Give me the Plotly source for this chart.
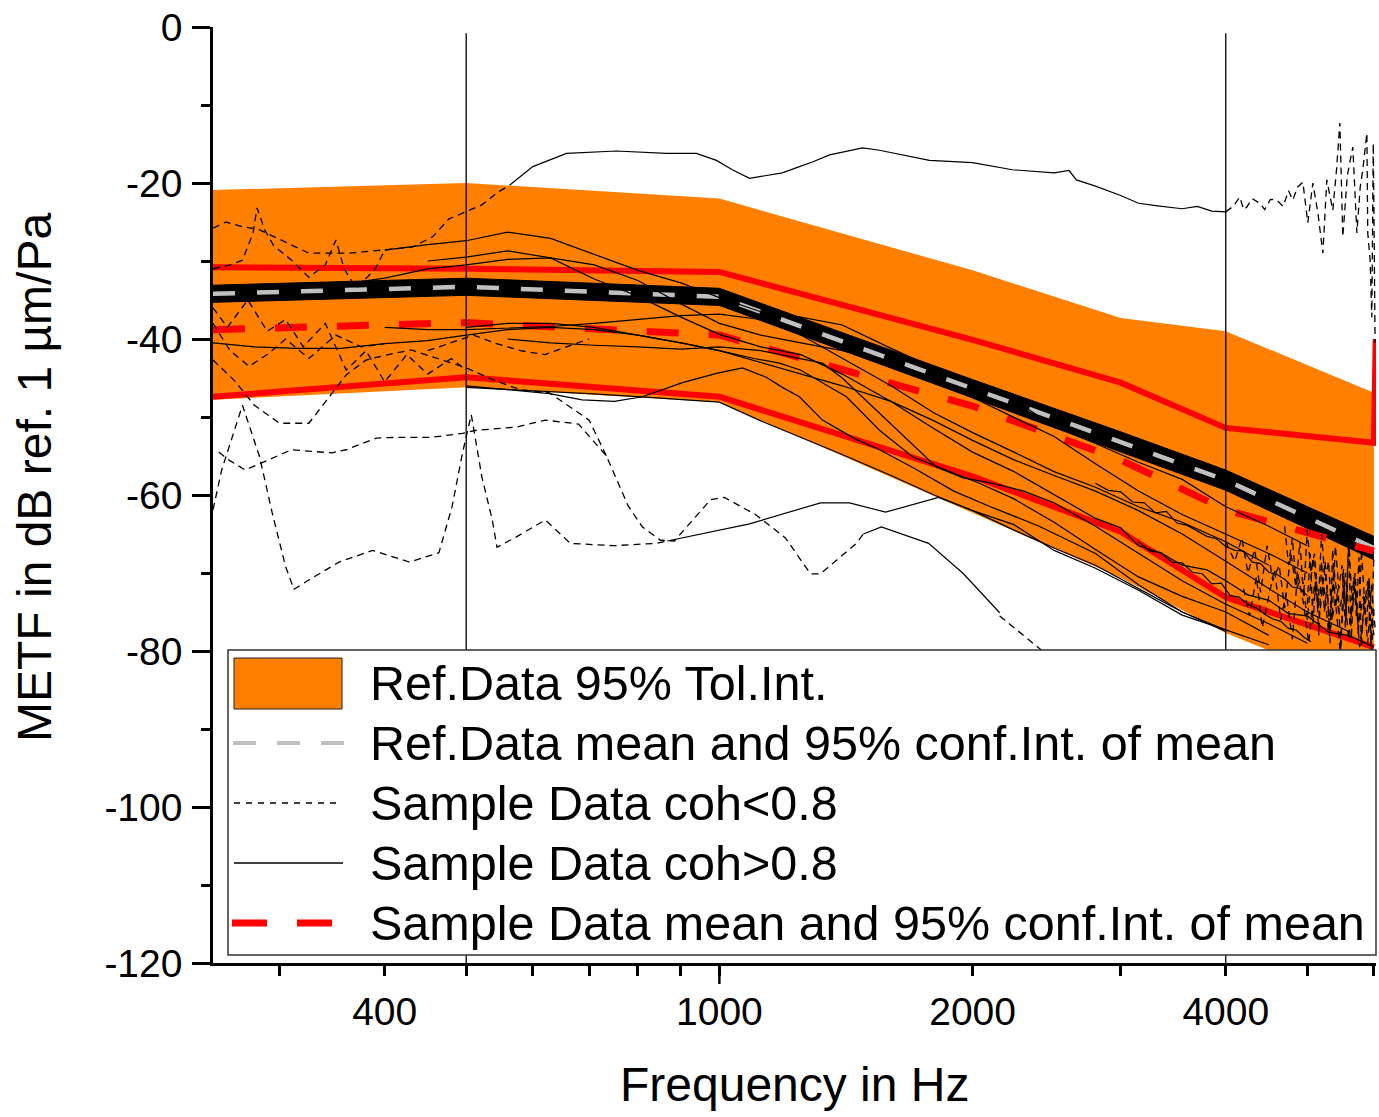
import math
import plotly.graph_objects as go

# ---------------- Reference data (audiometric frequencies) ----------------
ref_hz = [250, 500, 1000, 2000, 3000, 4000, 6000]
ref_tol_upper = [-20.9, -20.0, -22.0, -31.2, -37.3, -39.0, -46.9]
ref_tol_lower = [-47.8, -46.2, -48.1, -62.3, -70.6, -77.7, -85.4]
ref_mean = [-34.2, -33.3, -34.6, -46.4, -53.2, -58.1, -66.8]
ref_ci_upper = [-33.1, -32.2, -33.5, -45.2, -51.9, -56.8, -65.3]
ref_ci_lower = [-35.3, -34.4, -35.7, -47.6, -54.5, -59.4, -68.3]

# ---------------- Sample data mean / CI ----------------
smp_hz = [250, 500, 1000, 2000, 3000, 4000, 6000]
smp_mean = [-38.8, -37.9, -39.5, -48.6, -55.5, -61.9, -67.2]
smp_ci_lower = [-47.4, -44.9, -47.4, -57.6, -64.7, -73.1, -79.5]
smp_ci_upper_hz = [250, 500, 1000, 2000, 3000, 4000, 6000, 6030]
smp_ci_upper = [-30.8, -31.0, -31.4, -40.1, -45.6, -51.4, -53.3, -40.0]

# ---------------- Individual samples, coherence > 0.8 (solid) ----------------
s1_hz = [563, 600, 658, 754, 865, 939, 992, 1036, 1086, 1188, 1245, 1290, 1352, 1480, 1550, 1777,
         2000, 2230, 2500, 2605, 2657, 2800, 3000, 3150, 3300, 3550, 3700, 3850, 4000]
s1_db = [-20.3, -17.9, -16.2, -15.9, -16.2, -16.2, -17.1, -18.3, -19.4, -18.7, -17.9, -17.3, -16.4, -15.5, -15.8, -17.1,
         -17.4, -18.3, -18.7, -18.4, -19.6, -20.4, -21.6, -22.6, -22.9, -23.3, -23.0, -23.6, -23.7]

s2_hz = [400, 450, 500, 560, 630, 710, 800, 900, 1000, 1120, 1250, 1400, 1600, 1800, 2000, 2240, 2500,
         2800, 3150, 3550, 4000, 4500, 5000]
s2_db = [-28.6, -27.9, -27.4, -26.3, -27.1, -29.2, -31.2, -32.8, -34.7, -36.5, -37.2, -38.2, -41.2, -43.7, -45.6, -47.8, -51.2,
         -53.4, -55.8, -58.0, -61.5, -64.0, -66.5]

s3_hz = [450, 500, 560, 630, 710, 800, 900, 1000, 1120, 1250, 1400, 1600, 1800, 2000, 2240, 2500, 2800,
         3000, 3150, 3350, 3550, 3800, 4000, 4250, 4500, 4750, 5000, 5300, 5600, 6000]
s3_db = [-30.0, -29.5, -28.7, -29.6, -32.3, -34.5, -37.2, -39.4, -41.0, -42.0, -44.5, -48.0, -51.5, -54.5, -57.0, -60.0, -63.0,
         -64.2, -66.5, -67.4, -69.0, -69.6, -71.0, -72.8, -73.5, -75.2, -75.5, -77.6, -78.0, -79.5]

s4_hz = [500, 560, 630, 710, 800, 900, 1000, 1100, 1179, 1250, 1416, 1550, 1697, 1862, 2037, 2240, 2500,
         2800, 3150, 3550, 4000, 4500]
s4_db = [-38.5, -38.0, -38.0, -38.5, -39.5, -40.5, -41.5, -42.5, -43.1, -44.0, -47.4, -51.7, -55.1, -56.8, -58.5, -60.5, -63.5,
         -67.0, -70.5, -73.0, -75.0, -78.0]

s5_hz = [560, 630, 710, 800, 900, 1000, 1120, 1250, 1326, 1400, 1550, 1700, 1811, 1950, 2113, 2300, 2500,
         2800, 3150, 3550, 4000, 4500, 5000]
s5_db = [-40.0, -40.5, -40.8, -41.0, -41.3, -41.0, -41.5, -42.5, -43.1, -45.0, -49.5, -53.5, -56.4, -57.8, -58.5, -59.5, -61.0,
         -64.0, -67.5, -71.0, -74.0, -76.5, -79.0]

s6_hz = [250, 280, 315, 355, 400, 450, 500, 560, 630, 710, 800, 900, 1000, 1120, 1250, 1400, 1600, 1800,
         2000, 2240, 2500, 2800, 3150, 3550, 4000, 4500, 5000, 5600]
s6_db = [-40.5, -41.0, -41.2, -41.2, -40.6, -40.2, -39.5, -38.8, -38.5, -38.8, -39.5, -40.5, -41.5, -43.0, -44.5, -46.0, -48.0, -50.5,
         -53.0, -55.5, -57.5, -59.5, -62.0, -65.0, -68.5, -72.0, -75.0, -77.5]

s7_hz = [500, 560, 628, 687, 750, 810, 904, 992, 1065, 1137, 1188, 1245, 1326, 1450, 1550, 1700, 1900,
         2100, 2400, 2800, 3150, 3550, 4000]
s7_db = [-46.0, -46.5, -47.0, -47.8, -48.0, -47.4, -45.6, -44.4, -43.7, -44.9, -46.2, -47.4, -50.4, -52.8, -54.2, -56.5, -59.5,
         -61.5, -64.0, -67.5, -71.5, -75.0, -77.5]

s8_hz = [500, 600, 700, 800, 900, 1000, 1120, 1250, 1400, 1600, 1800, 2000, 2240, 2500, 2800, 3150, 3550, 4000]
s8_db = [-46.2, -46.6, -47.0, -47.4, -47.8, -48.1, -50.5, -52.6, -54.8, -57.5, -60.0, -62.0, -64.5, -66.8, -69.0, -72.0, -75.0, -77.3]

s9_hz = [315, 355, 400, 450, 500, 560, 630, 710, 800, 900, 1000, 1120, 1250, 1400, 1600, 1800, 2000,
         2240, 2500, 2800, 3150, 3550, 4000, 4500, 5000]
s9_db = [-33.5, -33.0, -32.2, -31.0, -30.5, -29.8, -29.6, -30.5, -32.5, -35.5, -38.0, -39.5, -40.5, -41.5, -43.0, -45.0, -47.5,
         -50.0, -52.5, -56.0, -59.5, -62.5, -65.0, -67.5, -70.0]

s10_hz = [400, 450, 500, 560, 630, 710, 800, 900, 1000, 1120, 1250, 1400, 1600, 1800, 2000, 2240, 2500,
          2800, 3150, 3550, 4000, 4500]
s10_db = [-38.5, -38.8, -38.8, -38.6, -38.4, -38.0, -37.5, -37.0, -36.8, -37.5, -39.5, -42.5, -46.0, -49.5, -52.0, -54.5, -57.0,
          -59.0, -61.5, -63.5, -66.0, -69.0]

s11_hz = [2800, 2900, 3000, 3100, 3200, 3300, 3400, 3500, 3600, 3700, 3800, 3900, 4000, 4100, 4200, 4300,
          4400, 4500, 4600, 4700, 4800, 4900, 5000]
s11_db = [-58.5, -59.4, -59.6, -60.9, -61.0, -62.3, -62.1, -63.6, -63.9, -64.6, -65.3, -65.6, -66.6, -67.1, -67.2, -68.6,
          -68.8, -69.9, -70.2, -70.8, -71.8, -72.0, -72.9]

s12_hz = [3150, 3250, 3350, 3450, 3550, 3650, 3750, 3850, 3950, 4050, 4150, 4250, 4350, 4450, 4550, 4650,
          4750, 4850, 4950, 5050]
s12_db = [-66.0, -67.2, -67.4, -68.6, -68.7, -69.9, -70.1, -71.4, -71.3, -72.9, -73.1, -74.0, -74.5, -75.3, -75.9, -76.2,
          -77.1, -77.3, -78.2, -78.8]

sa_hz = [867, 1086, 1319, 1428, 1576, 1822, 2000, 2240, 2500, 2800, 3150, 3550, 4000, 4500]
sa_db = [-65.9, -63.7, -61.0, -61.0, -62.2, -60.3, -62.0, -63.8, -67.1, -69.4, -72.2, -75.4, -77.3, -79.2]

sb_hz = [1483, 1558, 1773, 1951, 2154]
sb_db = [-65.0, -64.1, -66.2, -70.1, -75.1]

# ---------------- Individual samples, coherence < 0.8 (dashed) ----------------
d1_hz = [250, 259, 271, 284, 325, 363, 397, 432, 456, 477, 522, 545, 563]
d1_db = [-25.8, -25.0, -25.6, -26.0, -29.0, -29.0, -28.6, -28.2, -26.9, -24.6, -22.8, -21.2, -20.3]

d1b_hz = [4000, 4080, 4157, 4200, 4236, 4300, 4390, 4450, 4520, 4600, 4680, 4750, 4805, 4870, 4940, 5007,
          5077, 5150, 5218, 5275, 5362, 5420, 5466, 5511, 5580, 5664, 5727, 5780, 5821, 5886, 5900, 5940,
          5966, 5990, 6020]
d1b_db = [-23.7, -23.0, -21.8, -23.4, -23.1, -22.0, -22.6, -23.4, -22.1, -22.2, -23.0, -21.0, -22.2, -20.5, -19.9, -25.1,
          -20.0, -24.0, -29.0, -19.6, -23.5, -18.0, -12.3, -26.9, -19.0, -15.4, -26.4, -20.5, -18.3, -13.6, -26.4, -30.0,
          -37.2, -14.9, -40.5]

da_hz = [250, 256, 271, 284, 294, 305, 312, 325, 353, 387, 428, 464, 481, 495, 507, 510, 522, 537, 544,
         573, 621, 665, 748, 841, 867]
da_db = [-61.9, -56.8, -48.5, -55.1, -62.3, -69.2, -72.1, -70.9, -68.6, -67.1, -68.6, -67.4, -61.5, -54.6, -49.7, -51.3,
         -57.7, -63.2, -66.7, -65.4, -63.2, -66.2, -66.5, -66.2, -65.9]

db_hz = [254, 261, 273, 285, 310, 346, 360, 391, 416, 455, 495, 514, 573, 621, 680, 734, 779, 810, 851,
         884, 976, 1014, 1107, 1198, 1283, 1319, 1455, 1483]
db_db = [-54.5, -55.5, -56.8, -55.9, -54.2, -54.6, -54.2, -52.7, -52.6, -52.6, -52.1, -51.7, -51.3, -50.4, -50.9, -55.0,
         -61.4, -64.1, -65.8, -65.9, -60.6, -60.3, -62.6, -65.5, -70.1, -70.1, -66.2, -65.0]

db2_hz = [2154, 2518]
db2_db = [-75.5, -81.5]

dc_hz = [250, 265, 280, 300, 325, 345, 360, 380, 400, 430, 470, 500, 540, 580, 628, 660, 700, 734]
dc_db = [-42.7, -45.3, -48.5, -50.8, -50.8, -47.2, -44.6, -42.7, -42.1, -41.4, -42.7, -43.7, -45.3, -46.5, -46.9, -48.5,
         -50.4, -55.0]

dd_hz = [250, 262, 271, 279, 282, 288, 295, 310, 325, 340, 350, 358, 370, 390, 400]
dd_db = [-31.0, -30.5, -29.9, -26.4, -23.2, -26.0, -28.0, -29.9, -32.1, -30.5, -27.3, -31.0, -33.5, -31.0, -28.6]

de_hz = [250, 260, 275, 290, 305, 320, 340, 360, 380, 400, 425, 450, 480, 500]
de_db = [-36.0, -38.5, -35.0, -39.0, -37.5, -41.0, -38.0, -44.0, -41.5, -45.5, -42.0, -44.5, -42.5, -44.0]

df_hz = [250, 262, 276, 290, 305, 325, 350, 375, 400]
df_db = [-38.0, -41.5, -43.5, -42.0, -40.0, -42.5, -39.5, -41.0, -40.6]

dg_hz = [450, 480, 510, 540, 580, 620, 660, 700]
dg_db = [-41.5, -40.5, -39.5, -40.5, -41.5, -42.0, -41.0, -40.0]

dn1_hz = [4000, 4100, 4180, 4250, 4330, 4400, 4480, 4550, 4630, 4700, 4780, 4850, 4930, 5000, 5080, 5150,
          5230, 5300, 5380, 5450, 5530, 5600, 5680, 5750, 5830, 5900, 5960, 6020]
dn1_db = [-66.0, -68.5, -65.5, -70.0, -67.0, -72.5, -66.5, -71.0, -69.0, -74.5, -67.5, -72.0, -70.5, -76.0, -68.0, -73.5,
          -71.5, -77.5, -69.5, -75.0, -72.0, -78.5, -70.5, -76.5, -73.0, -79.0, -71.5, -77.0]

dn2_hz = [4200, 4270, 4350, 4420, 4500, 4570, 4650, 4720, 4800, 4870, 4950, 5020, 5100, 5170, 5250, 5320,
          5400, 5470, 5550, 5620, 5700, 5770, 5850, 5920, 6000]
dn2_db = [-72.0, -75.5, -70.5, -77.0, -73.0, -69.5, -76.0, -72.5, -78.5, -70.0, -74.0, -79.0, -71.5, -75.5, -68.5, -77.5,
          -73.5, -80.0, -70.0, -76.5, -72.0, -79.5, -74.5, -71.0, -78.0]

dn3_hz = [4700, 4750, 4800, 4850, 4900, 4950, 5000, 5050, 5100, 5150, 5200, 5250, 5300, 5350, 5400, 5450,
          5500, 5550, 5600, 5650, 5700, 5750, 5800, 5850, 5900, 5950, 6000]
dn3_db = [-64.0, -69.0, -65.5, -71.5, -66.0, -73.0, -64.5, -70.0, -67.5, -74.5, -65.0, -71.0, -68.5, -76.0, -66.5, -72.0,
          -69.0, -77.0, -65.5, -73.5, -70.0, -78.0, -67.0, -74.0, -71.0, -79.0, -68.0]

dn4_hz = [5000, 5040, 5080, 5120, 5160, 5200, 5240, 5280, 5320, 5360, 5400, 5440, 5480, 5520, 5560, 5600,
          5640, 5680, 5720, 5760, 5800, 5840, 5880, 5920, 5960, 6000]
dn4_db = [-74.0, -67.5, -76.5, -70.0, -78.0, -68.5, -75.0, -71.5, -79.0, -67.0, -74.5, -72.0, -80.0, -69.5, -76.0, -66.5,
          -78.5, -71.0, -75.5, -68.0, -79.5, -73.0, -77.0, -70.5, -80.0, -74.0]

# ---------------- Axes ----------------
x_tick_vals = [400, 1000, 2000, 4000]
x_tick_text = ["400", "1000", "2000", "4000"]
x_minor_vals = [300, 500, 600, 700, 800, 900, 3000, 5000, 6000]
y_tick_vals = [0, -20, -40, -60, -80, -100, -120]
y_tick_text = ["0", "-20", "-40", "-60", "-80", "-100", "-120"]
y_minor_vals = [-10, -30, -50, -70, -90, -110]
marker_lines_hz = [500, 4000]

legend_labels = ["Ref.Data 95% Tol.Int.",
                 "Ref.Data mean and 95% conf.Int. of mean",
                 "Sample Data coh<0.8",
                 "Sample Data coh>0.8",
                 "Sample Data mean and 95% conf.Int. of mean"]

ORANGE = "#FF8000"
RED = "#FF0000"
GRAY = "#C0C0C0"
FONT = "Liberation Sans, Arial, sans-serif"
DASH = "7px,5px"

W, H = 1379, 1117
ML, MR, MT, MB = 213, 3, 27, 154
PW, PH = W - ML - MR, H - MT - MB


def px(x):
    return (x - ML) / PW


def py(y):
    return (H - MB - y) / PH


fig = go.Figure()

# orange tolerance band
fig.add_trace(go.Scatter(x=ref_hz, y=ref_tol_lower, mode="lines", line=dict(width=0, color=ORANGE),
                         showlegend=False, hoverinfo="skip"))
fig.add_trace(go.Scatter(x=ref_hz, y=ref_tol_upper, mode="lines", line=dict(width=0, color=ORANGE),
                         fill="tonexty", fillcolor=ORANGE, showlegend=False))

# reference mean CI (black band) and mean (gray dashed)
fig.add_trace(go.Scatter(x=ref_hz, y=ref_ci_lower, mode="lines", line=dict(width=1, color="black"),
                         showlegend=False, hoverinfo="skip"))
fig.add_trace(go.Scatter(x=ref_hz, y=ref_ci_upper, mode="lines", line=dict(width=1, color="black"),
                         fill="tonexty", fillcolor="black", showlegend=False))
fig.add_trace(go.Scatter(x=ref_hz, y=ref_mean, mode="lines", line=dict(width=4.5, color=GRAY, dash="22px,22px"),
                         showlegend=False))

# sample mean and CI (red)
fig.add_trace(go.Scatter(x=smp_ci_upper_hz, y=smp_ci_upper, mode="lines", line=dict(width=6, color=RED),
                         showlegend=False))
fig.add_trace(go.Scatter(x=smp_hz, y=smp_ci_lower, mode="lines", line=dict(width=6, color=RED),
                         showlegend=False))
fig.add_trace(go.Scatter(x=smp_hz, y=smp_mean, mode="lines", line=dict(width=7, color=RED, dash="32px,30px"),
                         showlegend=False))

solid_samples = [(s1_hz, s1_db), (s2_hz, s2_db), (s3_hz, s3_db), (s4_hz, s4_db), (s5_hz, s5_db),
                 (s6_hz, s6_db), (s7_hz, s7_db), (s8_hz, s8_db), (s9_hz, s9_db), (s10_hz, s10_db),
                 (s11_hz, s11_db), (s12_hz, s12_db), (sa_hz, sa_db), (sb_hz, sb_db)]
dashed_samples = [(d1_hz, d1_db), (d1b_hz, d1b_db), (da_hz, da_db), (db_hz, db_db), (db2_hz, db2_db),
                  (dc_hz, dc_db), (dd_hz, dd_db), (de_hz, de_db), (df_hz, df_db), (dg_hz, dg_db),
                  (dn1_hz, dn1_db), (dn2_hz, dn2_db), (dn3_hz, dn3_db), (dn4_hz, dn4_db)]

for fx, fy in dashed_samples:
    fig.add_trace(go.Scatter(x=fx, y=fy, mode="lines", line=dict(width=1.3, color="black", dash=DASH),
                             showlegend=False))
for fx, fy in solid_samples:
    fig.add_trace(go.Scatter(x=fx, y=fy, mode="lines", line=dict(width=1.2, color="black"),
                             showlegend=False))

shapes = []
for f in marker_lines_hz:
    shapes.append(dict(type="line", xref="x", yref="y", x0=f, x1=f, y0=-120, y1=-0.8,
                       line=dict(color="black", width=1.3), layer="above"))
# long tick at 1000
shapes.append(dict(type="line", xref="x", yref="paper", x0=1000, x1=1000, y0=0, y1=-21 / PH,
                   line=dict(color="black", width=2.5), layer="above"))

# manual legend
lx0, lx1, ly0, ly1 = 228, 1376, 650, 955
shapes.append(dict(type="rect", xref="paper", yref="paper", x0=px(lx0), x1=px(lx1), y0=py(ly1), y1=py(ly0),
                   fillcolor="white", line=dict(color="#333333", width=1.5), layer="above"))
rows = [683, 743, 803, 863, 923]
shapes.append(dict(type="rect", xref="paper", yref="paper", x0=px(234), x1=px(342), y0=py(709), y1=py(658),
                   fillcolor=ORANGE, line=dict(color="#222222", width=1), layer="above"))
shapes.append(dict(type="line", xref="paper", yref="paper", x0=px(233), x1=px(346), y0=py(rows[1]), y1=py(rows[1]),
                   line=dict(color=GRAY, width=4, dash="23px,21px"), layer="above"))
shapes.append(dict(type="line", xref="paper", yref="paper", x0=px(234), x1=px(342), y0=py(rows[2]), y1=py(rows[2]),
                   line=dict(color="black", width=1.3, dash="6px,6px"), layer="above"))
shapes.append(dict(type="line", xref="paper", yref="paper", x0=px(234), x1=px(343), y0=py(rows[3]), y1=py(rows[3]),
                   line=dict(color="black", width=1.3), layer="above"))
shapes.append(dict(type="line", xref="paper", yref="paper", x0=px(232), x1=px(335), y0=py(rows[4]), y1=py(rows[4]),
                   line=dict(color=RED, width=7, dash="35px,30px"), layer="above"))

annotations = []
for label, ry in zip(legend_labels, rows):
    annotations.append(dict(xref="paper", yref="paper", x=px(368), y=py(ry), text=label, showarrow=False,
                            xanchor="left", yanchor="middle", font=dict(family=FONT, size=48.5, color="black")))
annotations.append(dict(xref="paper", yref="paper", x=px(794), y=py(1084), text="Frequency in Hz", showarrow=False,
                        xanchor="center", yanchor="middle", font=dict(family=FONT, size=48, color="black")))
annotations.append(dict(xref="paper", yref="paper", x=px(35), y=py(478), text="METF in dB ref. 1 µm/Pa",
                        showarrow=False, textangle=-90, xanchor="center", yanchor="middle",
                        font=dict(family=FONT, size=48, color="black")))

fig.update_layout(
    width=W, height=H,
    margin=dict(l=ML, r=MR, t=MT, b=MB),
    paper_bgcolor="white", plot_bgcolor="white",
    showlegend=False,
    font=dict(family=FONT, color="black"),
    shapes=shapes, annotations=annotations,
    xaxis=dict(type="log", range=[math.log10(250), math.log10(6035)],
               tickmode="array", tickvals=x_tick_vals, ticktext=x_tick_text,
               ticks="outside", ticklen=10, tickwidth=2.5, tickcolor="black",
               minor=dict(tickmode="array", tickvals=x_minor_vals, ticks="outside", ticklen=10,
                          tickwidth=2.5, tickcolor="black", showgrid=False),
               showline=True, linewidth=2.5, linecolor="black", showgrid=False, zeroline=False,
               tickfont=dict(family=FONT, size=39, color="black"), ticklabelstandoff=2),
    yaxis=dict(range=[-120, 0], tickmode="array", tickvals=y_tick_vals, ticktext=y_tick_text,
               ticks="outside", ticklen=18, tickwidth=2.5, tickcolor="black",
               minor=dict(tickmode="array", tickvals=y_minor_vals, ticks="outside", ticklen=9,
                          tickwidth=2.5, tickcolor="black", showgrid=False),
               showline=True, linewidth=2.5, linecolor="black", showgrid=False, zeroline=False,
               tickfont=dict(family=FONT, size=39, color="black"), ticklabelstandoff=2),
)

fig.write_html("out.html")
